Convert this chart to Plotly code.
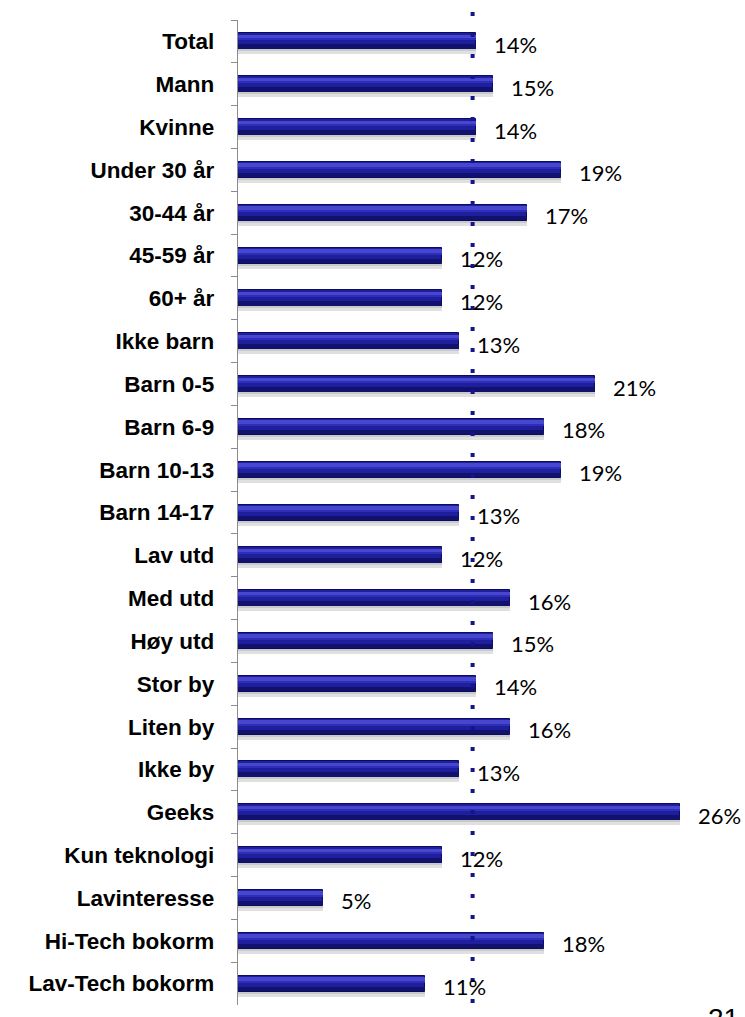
import plotly.graph_objects as go

# Share (%) per group
categories = [
    "Total", "Mann", "Kvinne", "Under 30 år", "30-44 år", "45-59 år", "60+ år",
    "Ikke barn", "Barn 0-5", "Barn 6-9", "Barn 10-13", "Barn 14-17",
    "Lav utd", "Med utd", "Høy utd", "Stor by", "Liten by", "Ikke by",
    "Geeks", "Kun teknologi", "Lavinteresse", "Hi-Tech bokorm", "Lav-Tech bokorm",
]
values = [14, 15, 14, 19, 17, 12, 12, 13, 21, 18, 19, 13,
          12, 16, 15, 14, 16, 13, 26, 12, 5, 18, 11]
value_labels = [f"{v}%" for v in values]
average = 13.8  # reference line (dotted)

W, H = 745, 1017
ML, MR, MT, MB = 238, 0, 20, 12
plot_h = H - MT - MB
band_px = plot_h / len(categories)


def band(px_top, px_bottom):
    """Convert a pixel span around a category centre to (offset, width) in category units."""
    return px_top / band_px, (px_bottom - px_top) / band_px


fig = go.Figure()

# bar layers: soft shadow, body, dark lower edge, light top highlight
layers = [
    (band(5, 13), "rgba(0,0,0,0.12)", None),
    (band(6, 10), "rgba(0,0,0,0.10)", None),
    (band(-8, 8), "#1f1f9e", dict(color="#0c0c5e", width=1)),
    (band(3, 7.5), "#11116e", None),
    (band(-6.5, -3), "#4646cf", None),
    (band(-3, -1), "#2e2eb8", None),
]
for (off, wid), color, line in layers:
    fig.add_trace(go.Bar(
        y=categories, x=values, orientation="h",
        offset=off, width=wid,
        marker=dict(color=color, line=line if line else dict(width=0)),
        hoverinfo="skip", showlegend=False,
    ))

# value labels
for cat, v, lab in zip(categories, values, value_labels):
    fig.add_annotation(
        x=v, y=cat, xref="x", yref="y", text=lab, showarrow=False,
        xanchor="left", xshift=16, yshift=-3,
        font=dict(family="Lato, Open Sans, sans-serif", size=22, color="#000000"),
    )

# dotted reference line, running slightly past the plot area at both ends
fig.add_shape(
    type="line", xref="x", yref="paper",
    x0=average, x1=average,
    y0=1 + (MT - 12) / plot_h,
    y1=-(MB + 8) / plot_h,
    line=dict(color="#14148c", width=4, dash="4px,17px"),
    layer="above",
)

# page number
fig.add_annotation(
    xref="paper", x=(706 - ML) / (W - ML - MR), xanchor="left",
    yref="paper", y=(H - MB - 1001) / plot_h, yanchor="top",
    text="21", showarrow=False,
    font=dict(family="Liberation Sans, Arial", size=28, color="#000000"),
)

fig.update_layout(
    width=W, height=H,
    margin=dict(l=ML, r=MR, t=MT, b=MB),
    paper_bgcolor="white", plot_bgcolor="white",
    barmode="overlay", bargap=0,
    xaxis=dict(range=[0, (W - ML - MR) / 17.0], visible=False, fixedrange=True),
    yaxis=dict(
        autorange="reversed", type="category",
        showline=True, linecolor="#8c8c8c", linewidth=1.3,
        ticks="outside", tickson="boundaries", ticklen=6, tickcolor="#8c8c8c",
        tickwidth=1.3, showgrid=False,
        tickfont=dict(family="Liberation Sans, Arial", size=22.5, color="#000000", weight="bold"),
        ticklabelstandoff=18,
    ),
)

fig.write_html("out.html")
